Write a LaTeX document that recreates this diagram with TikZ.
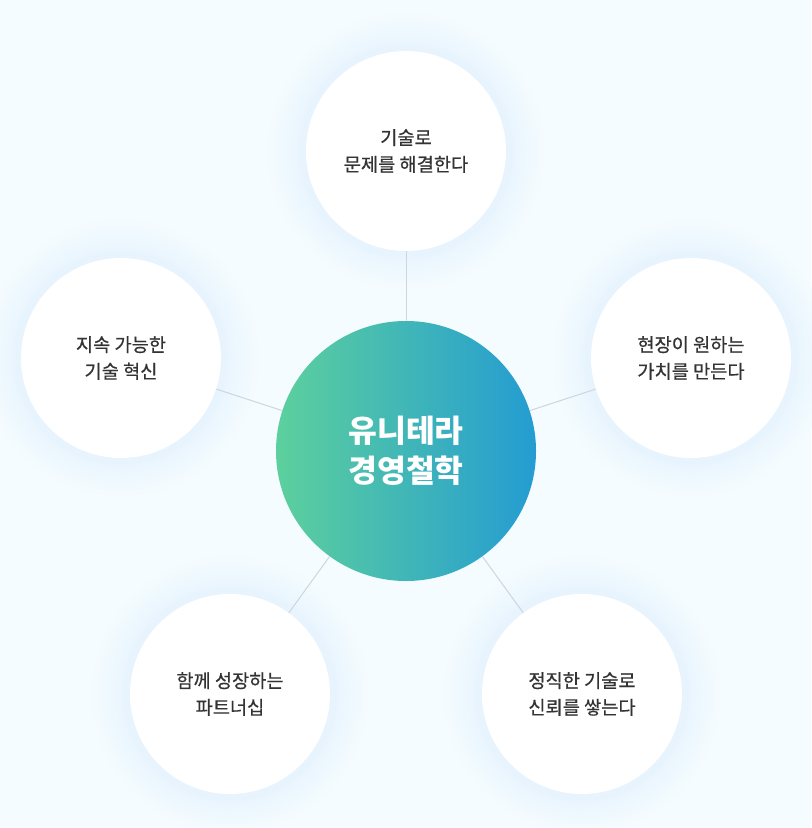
\documentclass[tikz,border=0pt]{standalone}
\usepackage{fontspec}
\newfontfamily\kr{Noto Sans CJK KR}
\newfontfamily\krmed[FakeBold=0.6]{Noto Sans CJK KR}
\usetikzlibrary{positioning, backgrounds}
\definecolor{bgcol}{HTML}{F5FCFF}
\definecolor{glowcol}{HTML}{E6F3FD}
\definecolor{linecol}{HTML}{CDD6DF}
\definecolor{txtcol}{HTML}{333333}
\definecolor{gleft}{HTML}{5DD09D}
\definecolor{gright}{HTML}{249CD2}

\begin{document}
\begin{tikzpicture}[x=0.75pt, y=-0.75pt,
    sat/.style={circle, fill=white, minimum size=150pt, inner sep=0pt, align=center,
      text=txtcol, font=\krmed\fontsize{14}{20}\selectfont},
    hub/.style={circle, left color=gleft, right color=gright, minimum size=195pt, inner sep=0pt,
      align=center, text=white, font=\kr\bfseries\fontsize{23.5}{30}\selectfont},
    link/.style={draw=linecol, line width=0.75pt}]
    \useasboundingbox (0,0) rectangle (811,828);
    \node[hub] (hub)     at (406,451) {유니테라\\경영철학};
    \node[sat] (tech)    at (406,151) {기술로\\문제를 해결한다};
    \node[sat] (sustain) at (121,358) {지속 가능한\\기술 혁신};
    \node[sat] (field)   at (691,358) {현장이 원하는\\가치를 만든다};
    \node[sat] (partner) at (230,694) {함께 성장하는\\파트너십};
    \node[sat] (trust)   at (582,694) {정직한 기술로\\신뢰를 쌓는다};
    \begin{scope}[on background layer]
      \fill[bgcol] (0,0) rectangle (811,828);
      % soft glow round the satellites
      \foreach \n in {tech, sustain, field, partner, trust}
        \foreach \r in {40,38,...,2}
          \pgfmathtruncatemacro\pct{100-2.5*\r}
          \fill[glowcol!\pct!bgcol] (\n.center) circle[radius=75pt+\r*0.75pt];
      \foreach \n in {tech, sustain, field, partner, trust}
        \draw[link] (hub) -- (\n);
    \end{scope}
  \end{tikzpicture}
\end{document}
